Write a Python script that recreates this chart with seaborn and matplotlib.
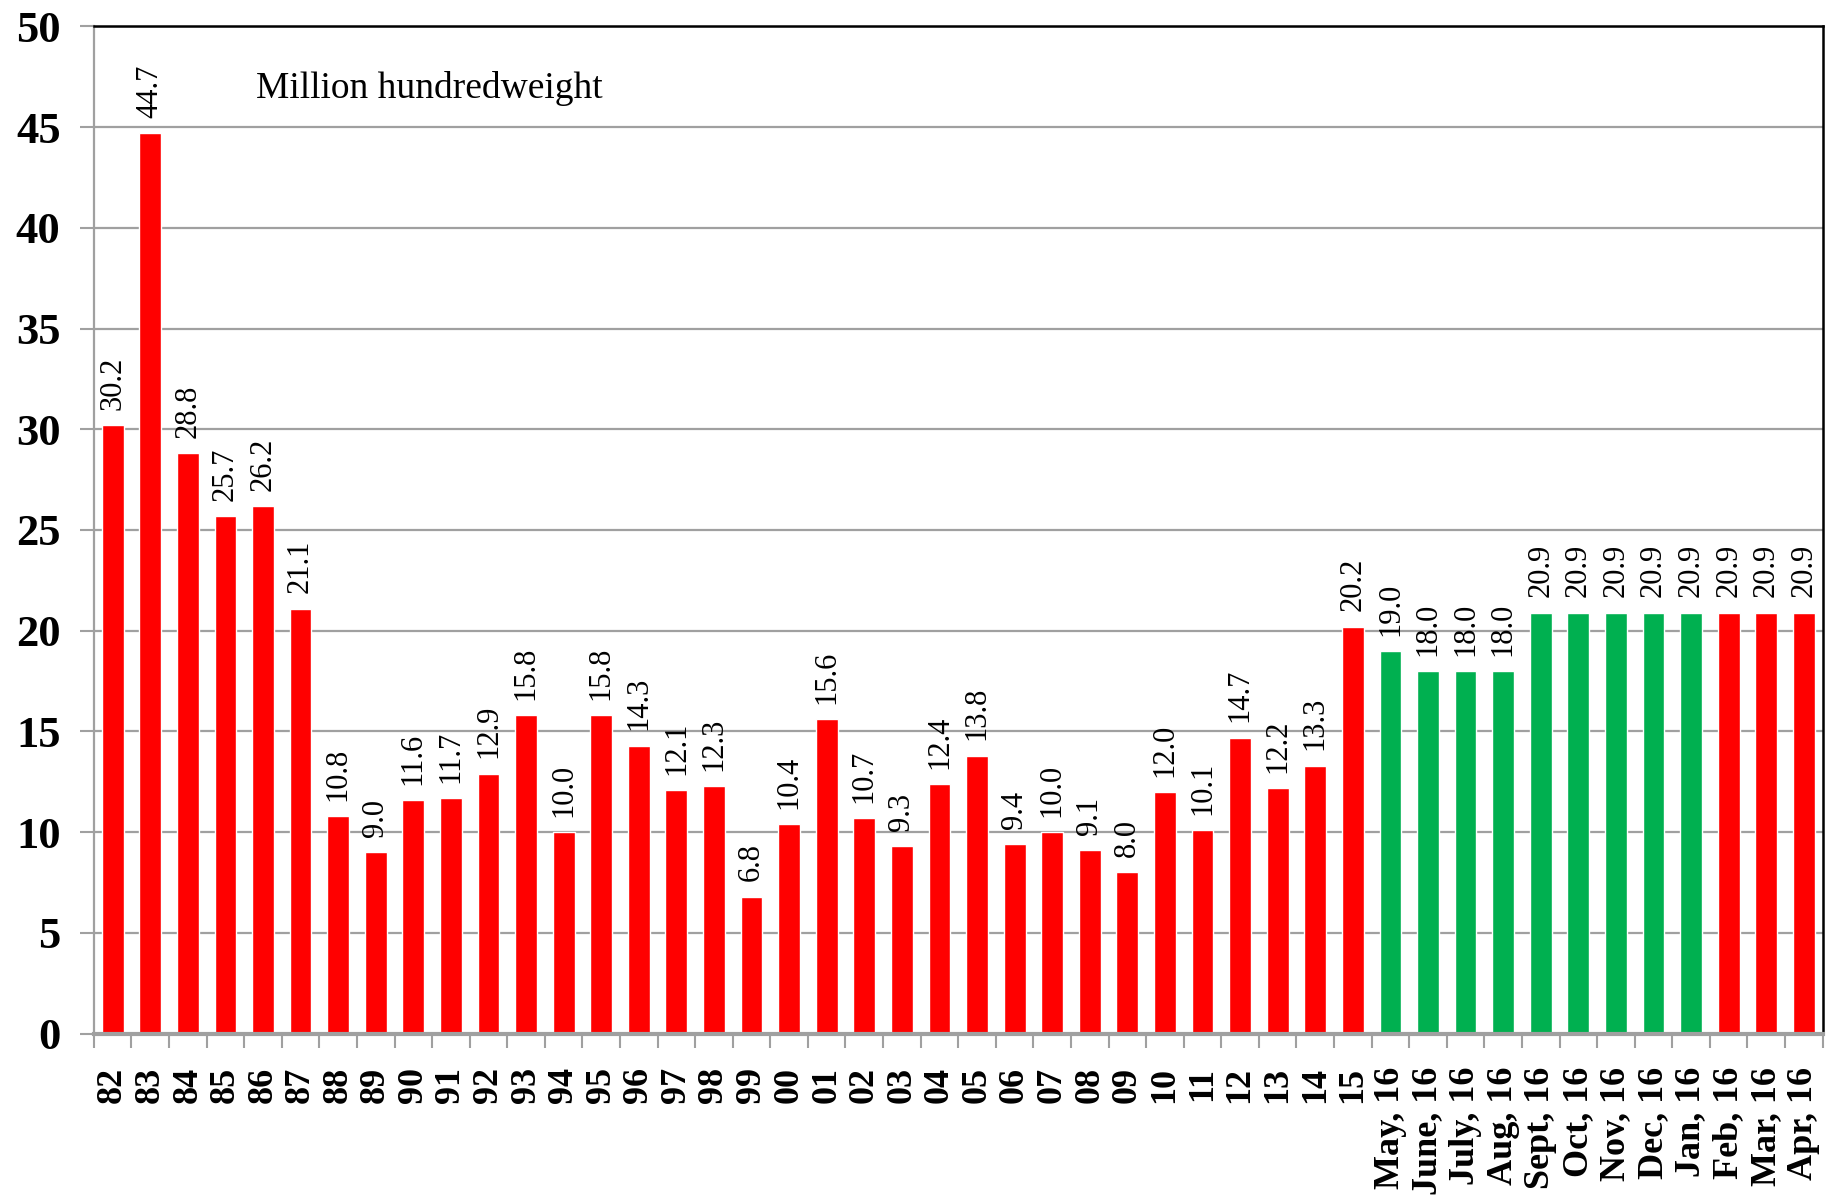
import matplotlib
matplotlib.use("Agg")
import matplotlib.pyplot as plt
import seaborn as sns
from matplotlib.ticker import MultipleLocator, FixedLocator

# --- data ---
years = ["82", "83", "84", "85", "86", "87", "88", "89", "90", "91", "92", "93",
         "94", "95", "96", "97", "98", "99", "00", "01", "02", "03", "04", "05",
         "06", "07", "08", "09", "10", "11", "12", "13", "14", "15"]
year_values = [30.2, 44.7, 28.8, 25.7, 26.2, 21.1, 10.8, 9.0, 11.6, 11.7, 12.9, 15.8,
               10.0, 15.8, 14.3, 12.1, 12.3, 6.8, 10.4, 15.6, 10.7, 9.3, 12.4, 13.8,
               9.4, 10.0, 9.1, 8.0, 12.0, 10.1, 14.7, 12.2, 13.3, 20.2]
months = ["May, 16", "June, 16", "July, 16", "Aug, 16", "Sept, 16", "Oct, 16",
          "Nov, 16", "Dec, 16", "Jan, 16", "Feb, 16", "Mar, 16", "Apr, 16"]
month_values = [19.0, 18.0, 18.0, 18.0, 20.9, 20.9, 20.9, 20.9, 20.9, 20.9, 20.9, 20.9]
# months shown in green (the rest are red)
green_months = ["May, 16", "June, 16", "July, 16", "Aug, 16", "Sept, 16",
                "Oct, 16", "Nov, 16", "Dec, 16", "Jan, 16"]

labels = years + months
values = year_values + month_values
RED = "#FF0000"
GREEN = "#00B050"
colors = [GREEN if lab in green_months else RED for lab in labels]

sns.set_style("white")
plt.rcParams["font.family"] = ["Liberation Serif", "DejaVu Serif"]
plt.rcParams["text.color"] = "black"
plt.rcParams["xtick.labelcolor"] = "black"
plt.rcParams["ytick.labelcolor"] = "black"

fig, ax = plt.subplots(figsize=(18.41, 11.95), dpi=100)
fig.subplots_adjust(left=0.051, right=0.990, top=0.978, bottom=0.135)

sns.barplot(x=labels, y=values, hue=labels, palette=colors, order=labels,
            hue_order=labels, legend=False, width=0.58, saturation=1,
            dodge=False, ax=ax)

for cont in ax.containers:
    ax.bar_label(cont, fmt="%.1f", rotation=90, padding=11, fontsize=22, color="black")

ax.set_ylim(0, 50)
ax.set_xlim(-0.5, len(labels) - 0.5)
ax.yaxis.set_major_locator(MultipleLocator(5))
ax.grid(axis="y", color="#A0A0A0", linewidth=1.6)
ax.set_axisbelow(True)

ax.set_yticklabels([str(int(t)) for t in ax.get_yticks()], fontsize=32, fontweight="bold")
ax.tick_params(axis="y", length=10, width=1.5, color="#A0A0A0", pad=14, left=True,
               labelcolor="black")

ax.set_xticks(range(len(labels)))
ax.set_xticklabels(labels, rotation=90, fontsize=26, fontweight="bold", va="top")
ax.tick_params(axis="x", which="major", length=0, pad=24, labelcolor="black")
ax.xaxis.set_minor_locator(FixedLocator([i - 0.5 for i in range(len(labels) + 1)]))
ax.tick_params(axis="x", which="minor", length=10, width=1.5, color="#A0A0A0", bottom=True)

for side in ["top", "right"]:
    ax.spines[side].set_color("black")
    ax.spines[side].set_linewidth(1.8)
ax.spines["left"].set_color("#A0A0A0")
ax.spines["left"].set_linewidth(1.6)
ax.spines["bottom"].set_color("#A0A0A0")
ax.spines["bottom"].set_linewidth(3)

ax.text(0.094, 46.9, "Million hundredweight", transform=ax.get_yaxis_transform(),
        fontsize=27, va="center", ha="left", color="black")

ax.set_xlabel("")
ax.set_ylabel("")

plt.savefig("out.png", dpi=100)
